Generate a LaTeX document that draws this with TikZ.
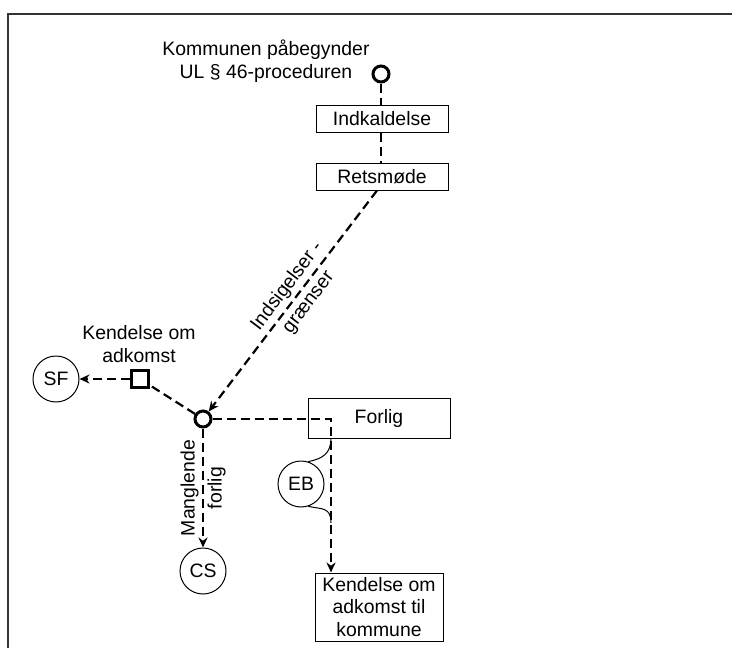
\documentclass[tikz,border=0pt]{standalone}
\usepackage{fontspec}
\setmainfont{Liberation Sans}
\usetikzlibrary{arrows.meta}
\begin{document}
\begin{tikzpicture}[x=1pt,y=-1pt,
  every node/.style={font=\fontsize{19.4}{22.5}\selectfont},
  linelabel/.style={align=center, font=\fontsize{19.4}{27}\selectfont},
  stepbox/.style={draw, line width=1pt, inner sep=0pt},
  junction/.style={circle, draw, line width=3pt, minimum size=16pt, inner sep=0pt},
  decision/.style={rectangle, draw, line width=3pt, minimum size=16.5pt, inner sep=0pt},
  party/.style={circle, draw, line width=1pt, minimum size=46pt, inner sep=0pt},
  flow/.style={line width=2.2pt, dash pattern=on 9pt off 5pt},
  tip/.style={-{Stealth[length=10pt,width=9pt]}},
  link/.style={line width=1pt}
]
\useasboundingbox (0,0) rectangle (732,648);
% frame
\draw[line width=1.5pt, black!80] (8,648) -- (8,14) -- (732,14);

% procedure column
\node[junction] (start) at (381,74) {};
\node[align=center] (startlbl) at (266,61) {Kommunen påbegynder\\UL § 46-proceduren};
\node[stepbox, minimum width=132pt, minimum height=27pt] (ind) at (382,118.5) {Indkaldelse};
\node[stepbox, minimum width=132pt, minimum height=27pt] (ret) at (382,176.5) {Retsmøde};

% hub and outcomes
\node[junction] (hub) at (203,419) {};
\node[decision] (sq) at (140,379) {};
\node[align=center] (sqlbl) at (139,344) {Kendelse om\\adkomst};
\node[party] (sf) at (56,379) {SF};
\node[party] (cs) at (203,571) {CS};
\node[stepbox, minimum width=142pt, minimum height=40pt] (forlig) at (379,418) {Forlig};
\node[party] (eb) at (301,484) {EB};
\node[stepbox, minimum width=128pt, minimum height=68pt, align=center] (kend) at (379,607) {Kendelse om\\adkomst til\\kommune};

\coordinate (bend) at (331,419);
\coordinate (ebin) at (331,438);
\coordinate (ebout) at (331,523);

% connectors
\draw[flow] (start) -- (start |- ind.north);
\draw[flow] (start |- ind.south) -- (start |- ret.north);
\draw[flow, tip] ([xshift=-5pt]ret.south) -- (hub)
  node[pos=0.47, rotate=53, linelabel] (objlbl) {Indsigelser -\\grænser};
\draw[flow] (hub) -- (sq);
\draw[flow, tip] (sq) -- (sf);
\draw[flow, tip] (hub) -- (cs)
  node[midway, rotate=90, linelabel] (nolbl) {Manglende\\forlig};
\draw[flow, tip] (hub) -- (bend) -- (bend |- kend.north);

% EB attached to the settlement line
\draw[link] (ebin) .. controls +(0,16) and +(14,-3) .. (eb.72);
\draw[link] (eb.-72) .. controls +(14,3) and +(0,-16) .. (ebout);
\end{tikzpicture}
\end{document}
